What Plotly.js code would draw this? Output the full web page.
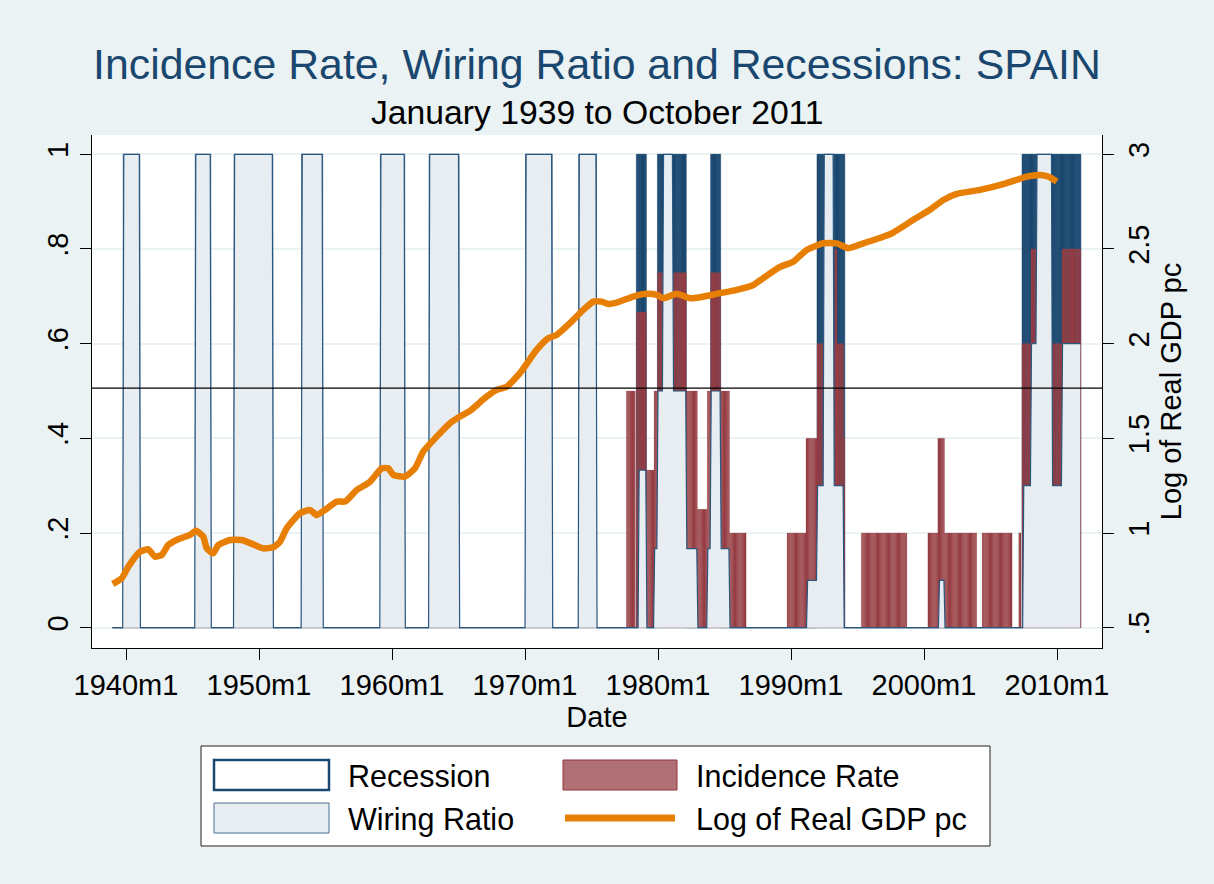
<!DOCTYPE html>
<html>
<head>
<meta charset="utf-8">
<script src="https://cdn.plot.ly/plotly-3.0.1.min.js"></script>
<style>html,body{margin:0;padding:0;background:#eaf2f3;}#chart{width:1214px;height:884px;}</style>
</head>
<body>
<div id="chart"></div>
<script>
// ---------------- DATA ----------------
const firstMonth = '1939m1';
const lastMonth = '2011m10';

// Recession periods (value 1), monthly, inclusive
const recessionPeriods = [
  ['1939m11','1941m1'], ['1945m4','1946m5'], ['1948m3','1951m1'], ['1953m4','1954m10'],
  ['1959m3','1960m12'], ['1962m11','1965m1'], ['1970m2','1972m1'], ['1974m2','1975m5'],
  ['1978m6','1979m2'], ['1980m1','1982m2'], ['1984m1','1984m9'], ['1992m1','1994m1'],
  ['2007m6','2011m10']
];

// Wiring ratio: [start, end, value]
const wiringSegments = [
  ['1939m11','1941m1',1], ['1945m4','1946m5',1], ['1948m3','1951m1',1], ['1953m4','1954m10',1],
  ['1959m3','1960m12',1], ['1962m11','1965m1',1], ['1970m2','1972m1',1], ['1974m2','1975m5',1],
  ['1978m8','1979m2',0.333], ['1979m10','1979m12',0.167], ['1980m1','1980m5',0.5],
  ['1980m6','1981m2',1], ['1981m3','1982m2',0.5], ['1982m3','1982m12',0.167],
  ['1983m10','1983m12',0.167], ['1984m1','1984m9',0.5], ['1984m10','1985m5',0.167],
  ['1991m4','1991m12',0.1], ['1992m1','1992m6',0.3], ['1992m7','1993m3',1], ['1993m4','1993m12',0.3],
  ['2001m3','2001m7',0.1],
  ['2007m7','2008m1',0.3], ['2008m2','2008m6',0.6], ['2008m7','2009m8',1],
  ['2009m9','2010m5',0.3], ['2010m6','2011m10',0.6]
];

// Incidence rate: [start, end, value]
const incidenceSegments = [
  ['1977m9','1978m4',0.5], ['1978m6','1979m2',0.667], ['1979m3','1979m9',0.333],
  ['1979m10','1979m12',0.5], ['1980m1','1982m2',0.75], ['1982m3','1982m12',0.5],
  ['1983m1','1983m9',0.25], ['1983m10','1983m12',0.5], ['1984m1','1984m9',0.75],
  ['1984m10','1985m5',0.5], ['1985m6','1986m8',0.2],
  ['1989m10','1991m2',0.2], ['1991m3','1991m12',0.4], ['1992m1','1993m4',0.6],
  ['1993m5','1993m6',0.8], ['1993m7','1993m12',0.6], ['1994m1','1994m1',0.4],
  ['1995m5','1998m9',0.2], ['2000m5','2001m1',0.2], ['2001m2','2001m7',0.4],
  ['2001m8','2003m12',0.2], ['2004m6','2006m8',0.2], ['2007m3','2007m4',0.2],
  ['2007m6','2008m1',0.6], ['2008m2','2009m8',0.8], ['2009m9','2010m5',0.6],
  ['2010m6','2011m10',0.8]
];

// Log of real GDP per capita (right axis), date in decimal years
const gdpDate = [1939.00,1939.68,1940.17,1941.05,1941.68,1942.18,1942.68,1943.18,1943.93,1944.81,
  1945.26,1945.81,1946.07,1946.56,1946.94,1947.82,1948.70,1949.57,1950.32,1951.08,
  1951.58,1952.08,1953.08,1953.83,1954.34,1954.96,1955.84,1956.47,1957.35,1958.35,
  1959.23,1959.72,1960.10,1960.98,1961.73,1962.35,1963.36,1964.36,1965.11,1965.86,
  1967.11,1967.86,1968.62,1969.62,1970.87,1971.75,1972.38,1973.38,1974.38,1975.13,
  1975.77,1976.26,1976.89,1978.14,1979.15,1979.90,1980.40,1981.40,1982.41,1983.16,
  1984.41,1985.92,1987.17,1987.92,1989.17,1990.17,1991.18,1992.43,1993.44,1994.31,
  1995.44,1996.94,1997.69,1999.20,2000.45,2001.45,2002.46,2004.21,2006.22,2007.72,
  2008.72,2009.47,2009.98];
const gdpValue = [0.731,0.761,0.822,0.901,0.914,0.875,0.884,0.937,0.967,0.990,
  1.012,0.981,0.919,0.893,0.937,0.963,0.963,0.940,0.919,0.925,
  0.954,1.025,1.104,1.122,1.095,1.122,1.166,1.166,1.227,1.271,
  1.342,1.342,1.307,1.298,1.342,1.430,1.509,1.580,1.615,1.645,
  1.720,1.756,1.773,1.844,1.967,2.029,2.046,2.108,2.178,2.222,
  2.222,2.210,2.217,2.249,2.263,2.258,2.240,2.263,2.240,2.245,
  2.263,2.284,2.310,2.346,2.405,2.433,2.495,2.530,2.530,2.504,
  2.530,2.565,2.587,2.654,2.707,2.759,2.791,2.812,2.848,2.882,
  2.891,2.879,2.856];

const referenceLine = 0.506;
const xTickYears = [1940,1950,1960,1970,1980,1990,2000,2010];
const xTickText = ['1940m1','1950m1','1960m1','1970m1','1980m1','1990m1','2000m1','2010m1'];
const yTickVals = [0,0.2,0.4,0.6,0.8,1];
const yTickText = ['0','.2','.4','.6','.8','1'];
const y2TickVals = [0.5,1,1.5,2,2.5,3];
const y2TickText = ['.5','1','1.5','2','2.5','3'];

// ---------------- BUILD MONTHLY SERIES ----------------
function monthIndex(s){ const p = s.split('m').map(Number); return (p[0]-1939)*12 + (p[1]-1); }
const n = monthIndex(lastMonth) - monthIndex(firstMonth) + 1;
const dates = [], recession = [], wiring = [], incidence = [];
for (let i=0;i<n;i++){ dates.push(1939 + i/12); recession.push(0); wiring.push(0); incidence.push(0); }
recessionPeriods.forEach(([a,b])=>{ for(let i=monthIndex(a);i<=monthIndex(b);i++) recession[i]=1; });
wiringSegments.forEach(([a,b,v])=>{ for(let i=monthIndex(a);i<=monthIndex(b);i++) wiring[i]=v; });
incidenceSegments.forEach(([a,b,v])=>{ for(let i=monthIndex(a);i<=monthIndex(b);i++) incidence[i]=v; });

// ---------------- LAYOUT GEOMETRY ----------------
const W=1214, H=884;
const P = {l:92, r:1102, t:135, b:648};
const xp = px => (px-P.l)/(P.r-P.l);
const yp = py => (P.b-py)/(P.b-P.t);
const FONT = 'Liberation Sans, Arial, Helvetica, sans-serif';
const NAVY = '#1a476f', MAROON = '#90353b', WIRE = '#e8edf1', ORANGE = '#e87f05';

const traces = [
  {type:'bar', x:dates, y:recession, width:1/12, name:'Recession',
   marker:{color:NAVY, line:{width:0.6, color:NAVY}}, hoverinfo:'skip', showlegend:false},
  {type:'bar', x:dates, y:incidence, width:1/12, name:'Incidence Rate',
   marker:{color:MAROON, line:{width:0.25, color:'#a4545b'}}, hoverinfo:'skip', showlegend:false},
  {type:'scatter', mode:'lines', x:dates, y:wiring, name:'Wiring Ratio', fill:'tozeroy',
   fillcolor:WIRE, line:{color:'#2a5780', width:1.2}, hoverinfo:'skip', showlegend:false},
  {type:'scatter', mode:'lines', x:gdpDate, y:gdpValue, yaxis:'y2', name:'Log of Real GDP pc',
   line:{color:ORANGE, width:6.5, shape:'spline', smoothing:0.5}, hoverinfo:'skip', showlegend:false}
];

const shapes = [
  {type:'line', xref:'paper', yref:'y', x0:0, x1:1, y0:referenceLine, y1:referenceLine,
   line:{color:'#000', width:1.3}, layer:'above'},
  // legend
  {type:'rect', xref:'paper', yref:'paper', x0:xp(201), x1:xp(990), y0:yp(846), y1:yp(746),
   fillcolor:'#fff', line:{color:'#222', width:1}},
  {type:'rect', xref:'paper', yref:'paper', x0:xp(214), x1:xp(329), y0:yp(790), y1:yp(760),
   fillcolor:'#fff', line:{color:NAVY, width:2.5}},
  {type:'rect', xref:'paper', yref:'paper', x0:xp(214), x1:xp(329), y0:yp(833), y1:yp(803),
   fillcolor:WIRE, line:{color:'#4b7196', width:1}},
  {type:'rect', xref:'paper', yref:'paper', x0:xp(563), x1:xp(677), y0:yp(790), y1:yp(760),
   fillcolor:'#b07176', line:{color:MAROON, width:1}},
  {type:'line', xref:'paper', yref:'paper', x0:xp(565), x1:xp(675), y0:yp(818), y1:yp(818),
   line:{color:ORANGE, width:7}}
];

const legendFont = {family:FONT, size:30.5, color:'#000'};
const annotations = [
  {text:'January 1939 to October 2011', xref:'paper', yref:'paper', x:0.5, y:yp(112),
   xanchor:'center', yanchor:'middle', showarrow:false, font:{family:FONT, size:33.7, color:'#000'}},
  {text:'Recession', xref:'paper', yref:'paper', x:xp(346), y:yp(776), xanchor:'left', yanchor:'middle', showarrow:false, font:legendFont},
  {text:'Wiring Ratio', xref:'paper', yref:'paper', x:xp(346), y:yp(819), xanchor:'left', yanchor:'middle', showarrow:false, font:legendFont},
  {text:'Incidence Rate', xref:'paper', yref:'paper', x:xp(694), y:yp(776), xanchor:'left', yanchor:'middle', showarrow:false, font:legendFont},
  {text:'Log of Real GDP pc', xref:'paper', yref:'paper', x:xp(694), y:yp(819), xanchor:'left', yanchor:'middle', showarrow:false, font:legendFont}
];

const axisCommon = {showline:true, linecolor:'#000', linewidth:1, ticks:'outside', ticklen:11,
  tickcolor:'#000', tickwidth:1, zeroline:false, tickfont:{family:FONT, size:29, color:'#000'}};

const layout = {
  width:W, height:H,
  paper_bgcolor:'#eaf2f3', plot_bgcolor:'#ffffff',
  margin:{l:P.l, r:W-P.r, t:P.t, b:H-P.b, pad:0},
  barmode:'overlay',
  showlegend:false,
  font:{family:FONT, color:'#000'},
  title:{text:'Incidence Rate, Wiring Ratio and Recessions: SPAIN', xref:'paper', x:0.5, xanchor:'center',
    yref:'container', y:1-64/H, yanchor:'middle', font:{family:FONT, size:42.8, color:NAVY}},
  xaxis:Object.assign({}, axisCommon, {range:[1937.444, 2013.383], tickvals:xTickYears, ticktext:xTickText,
    showgrid:false, title:{text:'Date', font:{family:FONT, size:29, color:'#000'}, standoff:4}}),
  yaxis:Object.assign({}, axisCommon, {range:[-0.0429, 1.0408], tickvals:yTickVals, ticktext:yTickText,
    tickangle:-90, showgrid:true, gridcolor:'#eaf2f3', gridwidth:2}),
  yaxis2:Object.assign({}, axisCommon, {overlaying:'y', side:'right', range:[0.3928, 3.102],
    tickvals:y2TickVals, ticktext:y2TickText, tickangle:-90, showgrid:false,
    title:{text:'Log of Real GDP pc', font:{family:FONT, size:29, color:'#000'}, standoff:2}}),
  shapes:shapes,
  annotations:annotations
};

Plotly.newPlot('chart', traces, layout, {staticPlot:true, displayModeBar:false});
</script>
</body>
</html>
